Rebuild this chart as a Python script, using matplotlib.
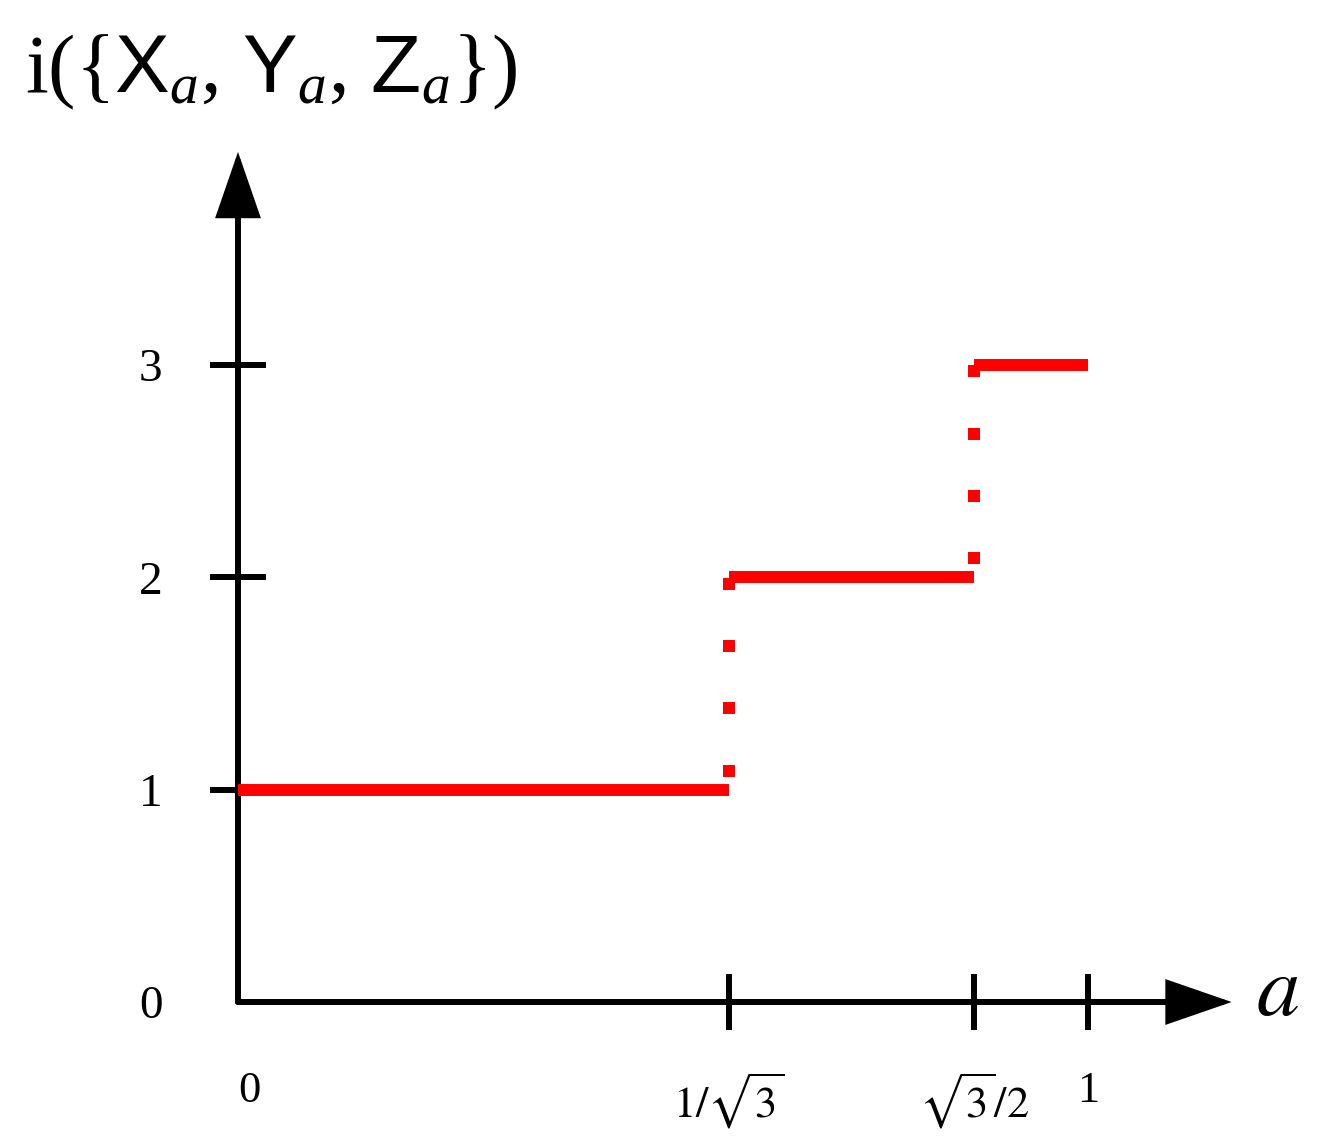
import numpy as np
import matplotlib
matplotlib.use("Agg")
import matplotlib.pyplot as plt

plt.rcParams['font.family'] = ['Liberation Serif', 'DejaVu Serif']
plt.rcParams['mathtext.fontset'] = 'stix'
# used only by the title (math_fontfamily='custom')
plt.rcParams['mathtext.rm'] = 'Liberation Serif'
plt.rcParams['mathtext.it'] = 'Liberation Serif:italic'
plt.rcParams['mathtext.sf'] = 'Liberation Sans'

# step function data
breaks = [0, 1 / np.sqrt(3), np.sqrt(3) / 2, 1.0]
levels = [1, 2, 3]
# dotted connectors at the jumps
jump1_y = [1.09, 1.385, 1.675, 1.97]
jump2_y = [2.09, 2.385, 2.675, 2.97]

xticks = [0, 1 / np.sqrt(3), np.sqrt(3) / 2, 1.0]
xtick_labels = ['0', r'$1/\sqrt{3}$', r'$\sqrt{3}/2$', '1']
yticks = [0, 1, 2, 3]
ytick_labels = ['0', '1', '2', '3']

red = '#ff0000'

fig = plt.figure(figsize=(13.19, 11.41), dpi=100)
ax = fig.add_axes([0, 0, 1, 1])
ax.set_xlim(-0.28, 1.2718)
ax.set_ylim(-0.6547, 4.7197)

# hide the box, put the axes through the origin
for side in ['top', 'right', 'left', 'bottom']:
    ax.spines[side].set_visible(False)
ax.spines['left'].set_position(('data', 0))
ax.spines['bottom'].set_position(('data', 0))

# axis arrows
arrow = dict(arrowstyle='-|>,head_length=3.9,head_width=1.35',
             mutation_scale=10, lw=4.3, color='black',
             shrinkA=0, shrinkB=0, joinstyle='miter')
ax.annotate('', xy=(1.169, 0), xytext=(0, 0), arrowprops=arrow)
ax.annotate('', xy=(0, 4.004), xytext=(0, 0), arrowprops=arrow)

ax.set_xticks(xticks)
ax.set_xticklabels(xtick_labels)
ax.set_yticks(yticks)
ax.set_yticklabels(ytick_labels)
ax.tick_params(axis='both', direction='inout', length=41, width=4.3,
               labelsize=34, color='black')
ax.tick_params(axis='x', pad=29, labelsize=32)
ax.tick_params(axis='y', pad=34)
ax.xaxis.get_major_ticks()[0].tick1line.set_visible(False)
ax.yaxis.get_major_ticks()[0].tick1line.set_visible(False)
ax.get_xticklabels()[0].set_ha('left')

# red steps
for i, lev in enumerate(levels):
    ax.plot([breaks[i], breaks[i + 1]], [lev, lev], color=red, lw=8.6,
            solid_capstyle='butt', zorder=5, clip_on=False)
ax.plot([breaks[1]] * len(jump1_y), jump1_y, 's', color=red, ms=9,
        mew=0, zorder=5)
ax.plot([breaks[2]] * len(jump2_y), jump2_y, 's', color=red, ms=9,
        mew=0, zorder=5)

ax.text(1.2235, -0.061, r'$a$', fontsize=62, ha='center', va='baseline')

fig.text(25 / 1319, 1 - 72 / 1141,
         r'$\mathrm{i}(\{\mathsf{X}_a,\,\mathsf{Y}_a,\,\mathsf{Z}_a\})$',
         fontsize=59, ha='left', va='center', math_fontfamily='custom')

fig.savefig('out.png', dpi=100)
